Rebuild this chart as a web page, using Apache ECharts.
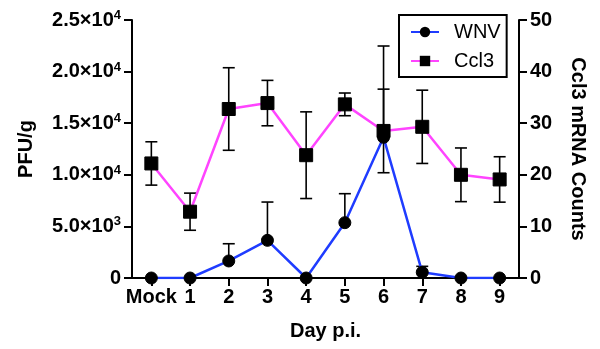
<!DOCTYPE html>
<html>
<head>
<meta charset="utf-8">
<script src="https://cdn.jsdelivr.net/npm/echarts@6/dist/echarts.min.js"></script>
<style>html,body{margin:0;padding:0;background:#fff}#c{width:600px;height:349px}</style>
</head>
<body>
<div id="c"></div>
<script>
// ---- data ----
var days = ['Mock', '1', '2', '3', '4', '5', '6', '7', '8', '9'];
var wnvMean = [0, 0, 1650, 3650, 0, 5360, 13630, 550, 0, 0];
var wnvSD   = [0, 0, 1670, 3710, 0, 2810, 8850, 580, 0, 0];
var ccl3Mean = [22.2, 12.85, 32.75, 33.9, 23.8, 33.65, 28.5, 29.3, 20.0, 19.1];
var ccl3SD   = [4.2, 3.6, 8.0, 4.4, 8.4, 2.2, 8.1, 7.1, 5.2, 4.4];
var leftTickMantissa = ['0', '5.0×10', '1.0×10', '1.5×10', '2.0×10', '2.5×10'];
var leftTickExponent = ['', '3', '4', '4', '4', '4'];
var rightTicks = [0, 10, 20, 30, 40, 50];

var FONT = '"Liberation Sans", Arial, Helvetica, sans-serif';
var chart = echarts.init(document.getElementById('c'));

function errItem(means, sds, upOnly) {
  return function (params, api) {
    var i = api.value(0);
    var m = means[i], s = sds[i];
    if (!s) return null;
    var top = api.coord([i, m + s]);
    var mid = api.coord([i, m]);
    var bot = upOnly ? mid : api.coord([i, m - s]);
    var hw = 6;
    var st = {stroke: '#000', lineWidth: 1.6};
    return {type: 'group', children: [
      {type: 'line', shape: {x1: top[0], y1: top[1], x2: bot[0], y2: bot[1]}, style: st},
      {type: 'line', shape: {x1: top[0] - hw, y1: top[1], x2: top[0] + hw, y2: top[1]}, style: st},
      upOnly ? null : {type: 'line', shape: {x1: bot[0] - hw, y1: bot[1], x2: bot[0] + hw, y2: bot[1]}, style: st}
    ].filter(Boolean)};
  };
}

var axisLine = {show: true, lineStyle: {color: '#000', width: 2}};
var axisTick = {show: true, length: 8, lineStyle: {color: '#000', width: 2}};

chart.setOption({
  animation: false,
  grid: {left: 132, right: 81, top: 20, bottom: 71, containLabel: false},
  legend: {
    orient: 'vertical', left: 399, top: 15,
    padding: [7, 6, 6, 11], itemGap: 9,
    borderColor: '#000', borderWidth: 2,
    itemWidth: 28, itemHeight: 13,
    textStyle: {fontFamily: FONT, fontSize: 20, color: '#000', padding: [0, 0, 0, 10]},
    data: ['WNV', 'Ccl3']
  },
  xAxis: {
    type: 'category', data: days, boundaryGap: true,
    name: 'Day p.i.', nameLocation: 'middle', nameGap: 43,
    nameTextStyle: {fontFamily: FONT, fontSize: 20, fontWeight: 'bold', color: '#000'},
    axisLine: axisLine,
    axisTick: Object.assign({alignWithLabel: true}, axisTick),
    axisLabel: {fontFamily: FONT, fontSize: 20, fontWeight: 'bold', color: '#000', margin: 9, interval: 0},
    splitLine: {show: false}
  },
  yAxis: [{
    type: 'value', min: 0, max: 25000, interval: 5000, position: 'left',
    name: 'PFU/g', nameLocation: 'middle', nameGap: 96,
    nameTextStyle: {fontFamily: FONT, fontSize: 20, fontWeight: 'bold', color: '#000'},
    axisLine: axisLine, axisTick: axisTick, splitLine: {show: false},
    axisLabel: {
      margin: 11, color: '#000',
      formatter: function (v) {
        var k = Math.round(v / 5000);
        var e = leftTickExponent[k];
        return '{b|' + leftTickMantissa[k] + '}' + (e ? '{s|' + e + '}' : '');
      },
      rich: {
        b: {fontFamily: FONT, fontSize: 20, fontWeight: 'bold', color: '#000', lineHeight: 22},
        s: {fontFamily: FONT, fontSize: 13, fontWeight: 'bold', color: '#000', verticalAlign: 'top', lineHeight: 22, padding: [0, 0, 8, 0]}
      }
    }
  }, {
    type: 'value', min: 0, max: 50, interval: 10, position: 'right',
    name: 'Ccl3 mRNA Counts', nameLocation: 'middle', nameGap: 49, nameRotate: -90,
    nameTextStyle: {fontFamily: FONT, fontSize: 20, fontWeight: 'bold', color: '#000'},
    axisLine: axisLine, axisTick: axisTick, splitLine: {show: false},
    axisLabel: {fontFamily: FONT, fontSize: 20, fontWeight: 'bold', color: '#000', margin: 11,
      formatter: function (v) { return rightTicks.indexOf(v) >= 0 ? String(v) : ''; }}
  }],
  series: [
    {type: 'custom', name: 'wnvErr', yAxisIndex: 0, z: 1,
     data: days.map(function (d, i) { return [i, wnvMean[i]]; }),
     renderItem: errItem(wnvMean, wnvSD, true)},
    {type: 'custom', name: 'ccl3Err', yAxisIndex: 1, z: 1,
     data: days.map(function (d, i) { return [i, ccl3Mean[i]]; }),
     renderItem: errItem(ccl3Mean, ccl3SD, false)},
    {type: 'line', name: 'WNV', yAxisIndex: 0, data: wnvMean, z: 3,
     symbol: 'circle', symbolSize: 12,
     lineStyle: {color: '#1f3cff', width: 2.5},
     itemStyle: {color: '#000', borderColor: '#000'}},
    {type: 'line', name: 'Ccl3', yAxisIndex: 1, data: ccl3Mean, z: 4,
     symbol: 'rect', symbolSize: 13,
     lineStyle: {color: '#ff44ff', width: 2.5},
     itemStyle: {color: '#000', borderColor: '#000'}}
  ]
});
</script>
</body>
</html>
